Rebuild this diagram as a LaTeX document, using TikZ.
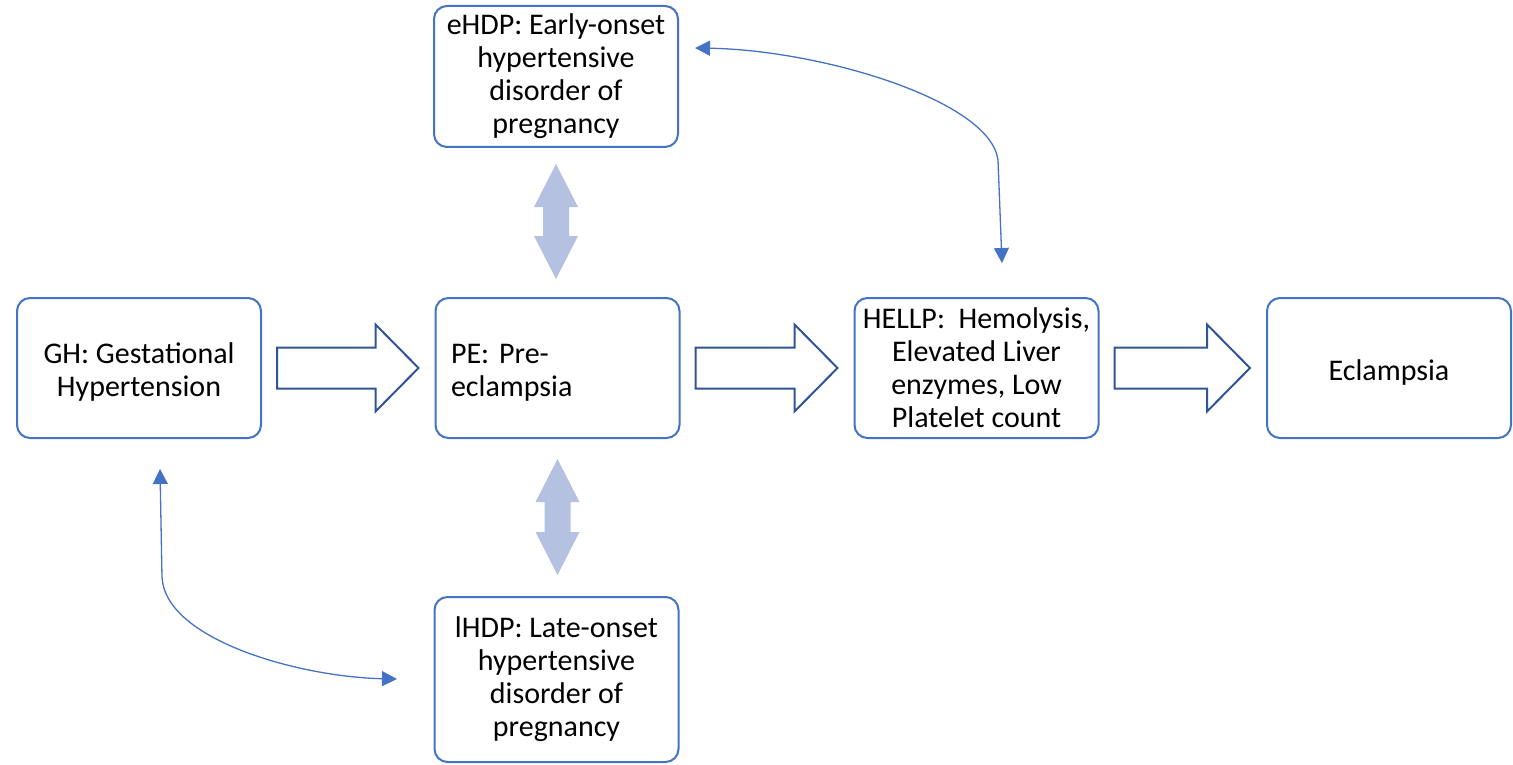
\documentclass[tikz,border=0pt]{standalone}
\usepackage{fontspec}
\setmainfont{Carlito}
\usetikzlibrary{arrows.meta,calc}
\definecolor{boxblue}{RGB}{68,114,196}
\definecolor{navy}{RGB}{47,85,151}
\definecolor{lightblue}{RGB}{180,193,224}
\newcommand\topstrut{\rule{0pt}{29pt}}
\tikzset{
  stage/.style={draw=boxblue, line width=2pt, rounded corners=13pt, fill=white,
    minimum width=244pt, minimum height=140pt, inner sep=0pt, align=center,
    font=\fontsize{30}{33}\selectfont},
  blockarrow/.style={draw=navy, line width=2pt, fill=white, line join=miter},
  twoway/.style={fill=lightblue, draw=none},
  link/.style={draw=boxblue, line width=1.3pt,
    {Triangle[length=15pt,width=15pt]}-{Triangle[length=15pt,width=15pt]}},
}
\newcommand\flowarrow[2]{%
  \draw[blockarrow] let \p1=($(#1.east)+(15pt,0)$), \p2=($(#2.west)+(-16pt,0)$) in
    (\x1,\y1+20.5pt) -- (\x2-43pt,\y1+20.5pt) -- (\x2-43pt,\y1+43.5pt) -- (\x2,\y1)
    -- (\x2-43pt,\y1-43.5pt) -- (\x2-43pt,\y1-20.5pt) -- (\x1,\y1-20.5pt) -- cycle;}
\newcommand\twowayarrow[4]{%
  \fill[twoway] let \p1=($(#1.south)+(0,-#3)$), \p2=($(#2.north)+(0,#4)$) in
    (\x1,\y1) -- (\x1+22pt,\y1-43pt) -- (\x1+13pt,\y1-43pt) -- (\x1+13pt,\y2+43pt)
    -- (\x1+22pt,\y2+43pt) -- (\x1,\y2) -- (\x1-22pt,\y2+43pt) -- (\x1-13pt,\y2+43pt)
    -- (\x1-13pt,\y1-43pt) -- (\x1-22pt,\y1-43pt) -- cycle;}
\begin{document}
\begin{tikzpicture}[x=1pt,y=-1pt]
\useasboundingbox (0,0) rectangle (1513,765);
\node[stage, minimum height=141pt] (ehdp) at (556,76.5) {eHDP: Early-onset\\hypertensive\\disorder of\\pregnancy};
\node[stage] (gh) at (139,368) {\topstrut GH: Gestational\\Hypertension};
\node[stage, align=left, text width=213pt, inner xsep=15pt] (pe) at (557.5,368) {\topstrut PE: Pre-\\eclampsia};
\node[stage] (hellp) at (976.5,368) {HELLP:\ \ Hemolysis,\\Elevated Liver\\enzymes, Low\\Platelet count};
\node[stage] (ecl) at (1389,368) {\topstrut Eclampsia};
\node[stage, minimum height=165pt] (lhdp) at (556.5,679.5) {lHDP: Late-onset\\hypertensive\\disorder of\\pregnancy};
\flowarrow{gh}{pe}
\flowarrow{pe}{hellp}
\flowarrow{hellp}{ecl}
\twowayarrow{ehdp}{pe}{16pt}{18pt}
\twowayarrow{pe}{lhdp}{20pt}{21pt}
\coordinate (e1) at (695,48);
\coordinate (e2) at (1002,263);
\draw[link] (e1) .. controls (820,50) and (990,100) .. (998,160) -- (e2);
\coordinate (g1) at (160,469);
\coordinate (g2) at (397,679);
\draw[link] (g1) -- (162,577) .. controls (165,640) and (300,677) .. (g2);
\end{tikzpicture}
\end{document}
